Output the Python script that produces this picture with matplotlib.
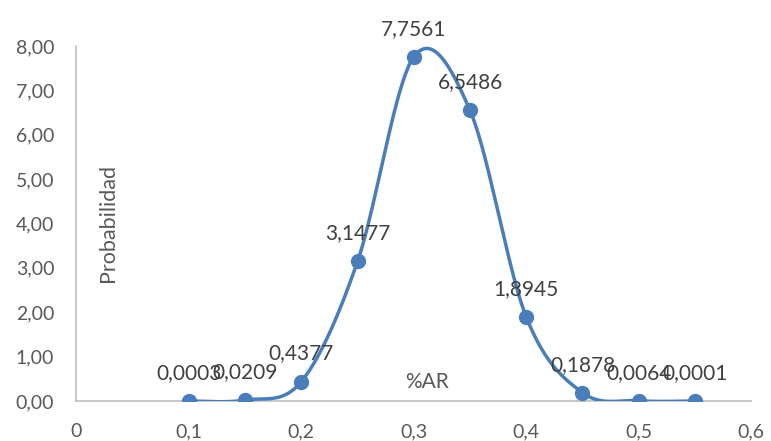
import matplotlib.pyplot as plt
import numpy as np
from matplotlib.ticker import FuncFormatter

plt.rcParams['font.family'] = ['Lato', 'DejaVu Sans']

ar = [0.10, 0.15, 0.20, 0.25, 0.30, 0.35, 0.40, 0.45, 0.50, 0.55]
prob = [0.0003, 0.0209, 0.4377, 3.1477, 7.7561, 6.5486, 1.8945, 0.1878, 0.0064, 0.0001]
labels = ['0,0003', '0,0209', '0,4377', '3,1477', '7,7561',
          '6,5486', '1,8945', '0,1878', '0,0064', '0,0001']


def smooth(xs, ys, n=40):
    # Catmull-Rom style bezier through all points (ends duplicated)
    p = np.column_stack([xs, ys])
    p = np.vstack([p[0], p, p[-1]])
    out = []
    t = np.linspace(0, 1, n)[:, None]
    for i in range(1, len(p) - 2):
        p0, p1, p2, p3 = p[i - 1], p[i], p[i + 1], p[i + 2]
        c1 = p1 + (p2 - p0) / 6
        c2 = p2 - (p3 - p1) / 6
        seg = ((1 - t) ** 3) * p1 + 3 * ((1 - t) ** 2) * t * c1 + 3 * (1 - t) * t ** 2 * c2 + t ** 3 * p2
        out.append(seg)
    out = np.vstack(out)
    return out[:, 0], out[:, 1]


fig = plt.figure(figsize=(7.71, 4.41), dpi=100)
ax = fig.add_axes([0.0992, 0.0907, 0.875, 0.805])

col = '#4a7ebb'
sx, sy = smooth(ar, prob)
ax.plot(sx, sy, color=col, lw=2.5, solid_capstyle='round', zorder=3)
ax.plot(ar, prob, 'o', color=col, ms=10, zorder=4)

for x, y, s in zip(ar, prob, labels):
    ax.annotate(s, (x, y), xytext=(0, 13), textcoords='offset points',
                ha='center', va='bottom', fontsize=15, color='#404040', zorder=5)

ax.set_xlim(0, 0.6)
ax.set_ylim(0, 8)
ax.set_xticks(np.arange(0, 0.61, 0.1))
ax.set_yticks(np.arange(0, 8.1, 1))
ax.xaxis.set_major_formatter(FuncFormatter(lambda v, _: '0' if abs(v) < 1e-9 else f'{v:.1f}'.replace('.', ',')))
ax.yaxis.set_major_formatter(FuncFormatter(lambda v, _: f'{v:.2f}'.replace('.', ',')))
ax.tick_params(length=0, labelsize=14, labelcolor='#595959')
ax.tick_params(axis='x', pad=16)
ax.tick_params(axis='y', pad=16)

for s in ['top', 'right']:
    ax.spines[s].set_visible(False)
for s in ['left', 'bottom']:
    ax.spines[s].set_color('#bfbfbf')
    ax.spines[s].set_linewidth(1.2)

ax.text(0.046, 0.5, 'Probabilidad', transform=ax.transAxes, rotation=90,
        ha='center', va='center', fontsize=15.5, color='#595959')
ax.text(0.52, 0.054, '%AR', transform=ax.transAxes,
        ha='center', va='center', fontsize=15, color='#595959')

fig.savefig('out.png', dpi=100)
